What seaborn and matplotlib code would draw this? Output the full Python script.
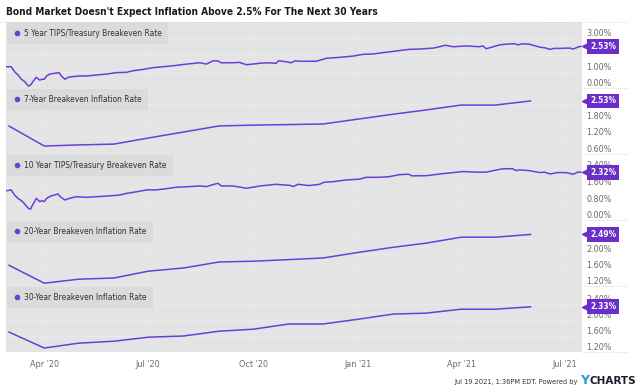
import pandas as pd
import matplotlib.pyplot as plt
import matplotlib.dates as mdates
import matplotlib.transforms as mtransforms
from matplotlib.lines import Line2D
import seaborn as sns

sns.set_style("white")
plt.rcParams['font.family'] = ['DejaVu Sans']
plt.rcParams['font.stretch'] = 'condensed'

purple = '#6d3dd8'
tag_purple = '#6a2fca'
panel_bg = '#e4e4e4'

title = "Bond Market Doesn't Expect Inflation Above 2.5% For The Next 30 Years"

# 5 year TIPS/Treasury breakeven
five_dates = ['2020-02-28', '2020-03-03', '2020-03-06', '2020-03-09', '2020-03-12', '2020-03-15',
              '2020-03-18', '2020-03-20', '2020-03-22', '2020-03-25', '2020-03-28', '2020-03-30',
              '2020-04-01', '2020-04-03', '2020-04-06', '2020-04-10', '2020-04-14', '2020-04-16',
              '2020-04-19', '2020-04-22', '2020-04-26', '2020-05-02', '2020-05-08', '2020-05-17',
              '2020-05-26', '2020-06-03', '2020-06-12', '2020-06-18', '2020-06-27', '2020-07-05',
              '2020-07-14', '2020-07-23', '2020-08-04', '2020-08-15', '2020-08-21', '2020-08-27',
              '2020-08-31', '2020-09-03', '2020-09-13', '2020-09-19', '2020-09-25', '2020-10-07',
              '2020-10-13', '2020-10-21', '2020-10-23', '2020-10-30', '2020-11-03', '2020-11-07',
              '2020-11-10', '2020-11-25', '2020-12-01', '2020-12-04', '2020-12-16', '2020-12-28',
              '2021-01-05', '2021-01-14', '2021-01-22', '2021-02-03', '2021-02-14', '2021-02-23',
              '2021-03-08', '2021-03-13', '2021-03-18', '2021-03-25', '2021-04-06', '2021-04-17',
              '2021-04-20', '2021-04-23', '2021-04-29', '2021-05-05', '2021-05-13', '2021-05-18',
              '2021-05-21', '2021-05-24', '2021-05-31', '2021-06-09', '2021-06-13', '2021-06-18',
              '2021-06-21', '2021-06-26', '2021-07-05', '2021-07-08', '2021-07-12', '2021-07-15']
five_vals = [1.29, 1.29, 0.99, 0.79, 0.53, 0.38,
             0.12, 0.18, 0.38, 0.65, 0.48, 0.53,
             0.53, 0.73, 0.85, 0.89, 0.93, 0.73,
             0.53, 0.65, 0.69, 0.73, 0.73, 0.79,
             0.85, 0.93, 0.95, 1.05, 1.13, 1.23,
             1.29, 1.35, 1.45, 1.53, 1.45, 1.65,
             1.64, 1.53, 1.53, 1.55, 1.41, 1.50,
             1.53, 1.50, 1.65, 1.59, 1.53, 1.65,
             1.62, 1.62, 1.74, 1.80, 1.86, 1.94,
             2.04, 2.06, 2.14, 2.24, 2.34, 2.36,
             2.42, 2.50, 2.59, 2.50, 2.55, 2.50,
             2.55, 2.38, 2.50, 2.62, 2.67, 2.68,
             2.61, 2.68, 2.65, 2.47, 2.44, 2.34,
             2.40, 2.40, 2.42, 2.36, 2.47, 2.53]

# 10 year TIPS/Treasury breakeven
ten_dates = ['2020-02-28', '2020-03-03', '2020-03-06', '2020-03-09', '2020-03-13', '2020-03-18',
             '2020-03-20', '2020-03-21', '2020-03-23', '2020-03-25', '2020-03-28', '2020-03-30',
             '2020-04-01', '2020-04-03', '2020-04-07', '2020-04-13', '2020-04-15', '2020-04-19',
             '2020-04-23', '2020-04-29', '2020-05-08', '2020-05-17', '2020-05-28', '2020-06-06',
             '2020-06-12', '2020-06-21', '2020-06-30', '2020-07-08', '2020-07-17', '2020-07-26',
             '2020-08-07', '2020-08-15', '2020-08-21', '2020-08-29', '2020-08-31', '2020-09-03',
             '2020-09-13', '2020-09-25', '2020-10-07', '2020-10-21', '2020-11-02', '2020-11-05',
             '2020-11-09', '2020-11-19', '2020-11-28', '2020-12-02', '2020-12-10', '2020-12-21',
             '2021-01-02', '2021-01-08', '2021-01-19', '2021-01-28', '2021-02-06', '2021-02-14',
             '2021-02-17', '2021-03-02', '2021-03-13', '2021-03-25', '2021-04-03', '2021-04-14',
             '2021-04-23', '2021-04-29', '2021-05-07', '2021-05-16', '2021-05-19', '2021-05-22',
             '2021-05-31', '2021-06-09', '2021-06-13', '2021-06-18', '2021-06-24', '2021-07-02',
             '2021-07-08', '2021-07-12', '2021-07-15']
ten_vals = [1.42, 1.46, 1.21, 1.05, 0.89, 0.57,
            0.52, 0.65, 0.84, 1.05, 0.89, 0.94,
            0.89, 1.05, 1.17, 1.26, 1.13, 0.97,
            1.05, 1.13, 1.10, 1.13, 1.17, 1.21,
            1.29, 1.37, 1.46, 1.46, 1.52, 1.59,
            1.62, 1.65, 1.62, 1.75, 1.78, 1.65,
            1.65, 1.54, 1.65, 1.73, 1.68, 1.62,
            1.73, 1.67, 1.73, 1.83, 1.86, 1.94,
            1.98, 2.07, 2.07, 2.10, 2.20, 2.22,
            2.14, 2.15, 2.23, 2.30, 2.35, 2.32,
            2.32, 2.39, 2.48, 2.49, 2.39, 2.43,
            2.39, 2.30, 2.32, 2.23, 2.30, 2.30,
            2.22, 2.32, 2.32]

# monthly series, Mar 2020 .. Jun 2021
month_dates = ['2020-03-01', '2020-04-01', '2020-05-01', '2020-06-01', '2020-07-01', '2020-08-01',
               '2020-09-01', '2020-10-01', '2020-11-01', '2020-12-01', '2021-01-01', '2021-02-01',
               '2021-03-01', '2021-04-01', '2021-05-01', '2021-06-01']
seven_vals = [1.62, 0.89, 0.93, 0.96, 1.18, 1.40, 1.62, 1.65, 1.67, 1.69, 1.87, 2.05, 2.20, 2.38, 2.38, 2.53]
twenty_vals = [1.72, 1.27, 1.37, 1.40, 1.57, 1.65, 1.80, 1.82, 1.86, 1.90, 2.04, 2.17, 2.27, 2.42, 2.42, 2.49]
thirty_vals = [1.70, 1.30, 1.42, 1.47, 1.57, 1.60, 1.72, 1.77, 1.90, 1.90, 2.02, 2.15, 2.17, 2.27, 2.27, 2.33]

panels = [
    ("5 Year TIPS/Treasury Breakeven Rate", five_dates, five_vals, (0, 4.0), [0, 1, 2, 3]),
    ("7-Year Breakeven Inflation Rate", month_dates, seven_vals, (0.6, 3.0), [0.6, 1.2, 1.8, 2.4]),
    ("10 Year TIPS/Treasury Breakeven Rate", ten_dates, ten_vals, (0, 3.2), [0, 0.8, 1.6, 2.4]),
    ("20-Year Breakeven Inflation Rate", month_dates, twenty_vals, (1.2, 2.85), [1.2, 1.6, 2.0, 2.4]),
    ("30-Year Breakeven Inflation Rate", month_dates, thirty_vals, (1.2, 2.85), [1.2, 1.6, 2.0, 2.4]),
]

W, H = 640, 390
fig = plt.figure(figsize=(6.4, 3.9), dpi=100)
x_left, x_right = 6, 582
top0, ph = 22, 66
xlim = (pd.Timestamp('2020-02-27 12:00'), pd.Timestamp('2021-07-15 19:00'))
xticks = pd.to_datetime(['2020-04-01', '2020-07-01', '2020-10-01', '2021-01-01', '2021-04-01', '2021-07-01'])

for i, (name, dates, vals, ylim, yticks) in enumerate(panels):
    top = top0 + ph * i
    ax = fig.add_axes([x_left / W, 1 - (top + ph) / H, (x_right - x_left) / W, ph / H])
    ax.set_facecolor(panel_bg)
    df = pd.DataFrame({'date': pd.to_datetime(dates), 'value': vals})
    sns.lineplot(data=df, x='date', y='value', ax=ax, color=purple, linewidth=1.1)
    ax.set_xlim(xlim)
    ax.set_ylim(ylim)
    ax.set_xlabel('')
    ax.set_ylabel('')
    for s in ax.spines.values():
        s.set_visible(False)

    ax.yaxis.tick_right()
    ax.set_yticks(yticks)
    ax.set_yticklabels([f"{t:.2f}%" for t in yticks])
    ax.tick_params(axis='y', length=0, pad=3, labelsize=6.5, labelcolor='#6a6a6a')
    for lbl in ax.get_yticklabels():
        lbl.set_va('bottom')
    ax.grid(axis='y', color='#ececec', linewidth=0.6)
    ax.grid(axis='x', color='#e9e9e9', linewidth=0.6)
    ax.set_xticks(xticks)
    ax.xaxis.set_major_formatter(mdates.DateFormatter("%b '%y"))
    ax.tick_params(axis='x', length=0, pad=6, labelsize=6.5, labelcolor='#6a6a6a')
    if i < len(panels) - 1:
        ax.tick_params(axis='x', labelbottom=False)

    # legend box with dot
    handle = Line2D([], [], marker='o', ls='', color=purple, markersize=3)
    leg = ax.legend([handle], [name], loc='upper left', bbox_to_anchor=(0.002, 0.985),
                    frameon=True, fancybox=False, borderaxespad=0, fontsize=6,
                    handlelength=0.8, handletextpad=0.5, borderpad=0.75)
    leg.get_frame().set_facecolor('#d9d9d9')
    leg.get_frame().set_edgecolor('none')
    for t in leg.get_texts():
        t.set_color('#333333')

    # last value tag
    last = vals[-1]
    btrans = mtransforms.blended_transform_factory(ax.transAxes, ax.transData)
    arrow_trans = mtransforms.offset_copy(btrans, fig=fig, x=6, y=0, units='dots')
    ax.plot([1.0], [last], marker='<', markersize=8, color=tag_purple,
            transform=arrow_trans, clip_on=False, zorder=5)
    ax.annotate(f"{last:.2f}%", xy=(1.0, last), xycoords=btrans,
                xytext=(8, 0), textcoords='offset pixels', ha='left', va='center',
                color='white', fontsize=6, fontweight='bold',
                bbox=dict(boxstyle='square,pad=0.35', fc=tag_purple, ec='none'),
                annotation_clip=False, zorder=6)

# dotted lines at panel boundaries on the right
for k in range(len(panels) + 1):
    y = 1 - (top0 + ph * k) / H
    x0 = 0 if k == 0 else x_right / W
    fig.add_artist(Line2D([x0, 628 / W], [y, y], transform=fig.transFigure,
                          ls=(0, (1, 1.5)), color='#cfcfcf', lw=0.6))

fig.text(6 / W, 1 - 12 / H, title, fontsize=7.3, fontweight='bold', color='#1a1a1a', va='center')
fig.text(578 / W, 1 - 382 / H, "Jul 19 2021, 1:36PM EDT. Powered by", fontsize=5.3,
         color='#333333', ha='right', va='center')
fig.text(580 / W, 1 - 381 / H, "Y", fontsize=9, fontweight='bold', color='#2a96dc',
         ha='left', va='center', fontstretch='normal')
fig.text(589 / W, 1 - 381 / H, "CHARTS", fontsize=7.5, fontweight='bold', color='#1c1c2a',
         ha='left', va='center', fontstretch='normal')

fig.savefig('out.png', dpi=100)
